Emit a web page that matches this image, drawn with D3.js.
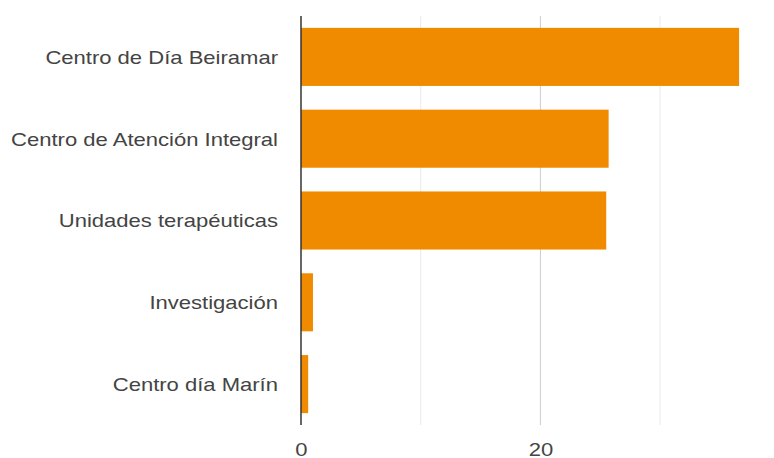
<!DOCTYPE html>
<html>
<head>
<meta charset="utf-8">
<script src="https://cdn.jsdelivr.net/npm/d3@7"></script>
<style>
  body { margin: 0; background: #fff; }
  svg { display: block; font-family: "Liberation Sans", Arial, sans-serif; }
</style>
</head>
<body>
<div id="chart"></div>
<script>
// ---- Data ----
const categories = [
    "Centro de Día Beiramar",
    "Centro de Atención Integral",
    "Unidades terapéuticas",
    "Investigación",
    "Centro día Marín"
];
const values = [36.6, 25.7, 25.5, 1.0, 0.6];
const gridTicks = [10, 20, 30];
const labelTicks = [0, 20];

const width = 774, height = 458;
const stretch = 1.16; // reference text looks horizontally stretched

const svg = d3.select("#chart").append("svg")
    .attr("width", width)
    .attr("height", height);

// ---- Scales ----
const xScale = d3.scaleLinear().domain([0, 40]).range([301, 779.8]);
const yScale = d3.scaleBand()
    .domain(categories)
    .range([16, 425])
    .paddingInner(0.29)
    .paddingOuter(0.145);

// ---- Gridlines ----
svg.append("g")
    .selectAll("line")
    .data(gridTicks)
    .join("line")
    .attr("x1", d => xScale(d))
    .attr("x2", d => xScale(d))
    .attr("y1", 16)
    .attr("y2", 425)
    .attr("stroke", d => d === 20 ? "#cccccc" : "#ebebeb")
    .attr("stroke-width", 1);

// ---- Bars ----
svg.append("g")
    .selectAll("rect")
    .data(categories)
    .join("rect")
    .attr("x", xScale(0))
    .attr("y", d => yScale(d))
    .attr("width", (d, i) => xScale(values[i]) - xScale(0))
    .attr("height", yScale.bandwidth())
    .attr("fill", "#f08b00");

// ---- Baseline ----
svg.append("line")
    .attr("x1", xScale(0))
    .attr("x2", xScale(0))
    .attr("y1", 16)
    .attr("y2", 425)
    .attr("stroke", "#333")
    .attr("stroke-width", 1.5);

// ---- Y axis labels ----
const yAxis = svg.append("g")
    .attr("transform", `translate(${xScale(0)},0)`)
    .call(d3.axisLeft(yScale).tickSize(0).tickPadding(0));
yAxis.select(".domain").remove();
yAxis.selectAll(".tick text")
    .attr("x", null)
    .attr("dy", null)
    .attr("dominant-baseline", "central")
    .attr("text-anchor", "end")
    .attr("transform", `translate(-23,0) scale(${stretch},1)`)
    .style("font-size", "19px")
    .style("font-family", "'Liberation Sans', Arial, sans-serif")
    .attr("fill", "#444");

// ---- X axis labels ----
const xAxis = svg.append("g")
    .attr("transform", "translate(0,425)")
    .call(d3.axisBottom(xScale).tickValues(labelTicks).tickSize(0).tickPadding(0));
xAxis.select(".domain").remove();
xAxis.selectAll(".tick text")
    .attr("y", null)
    .attr("dy", null)
    .attr("dominant-baseline", "central")
    .attr("transform", `translate(0,24) scale(${stretch},1)`)
    .style("font-size", "19px")
    .style("font-family", "'Liberation Sans', Arial, sans-serif")
    .attr("fill", "#444");
</script>
</body>
</html>
